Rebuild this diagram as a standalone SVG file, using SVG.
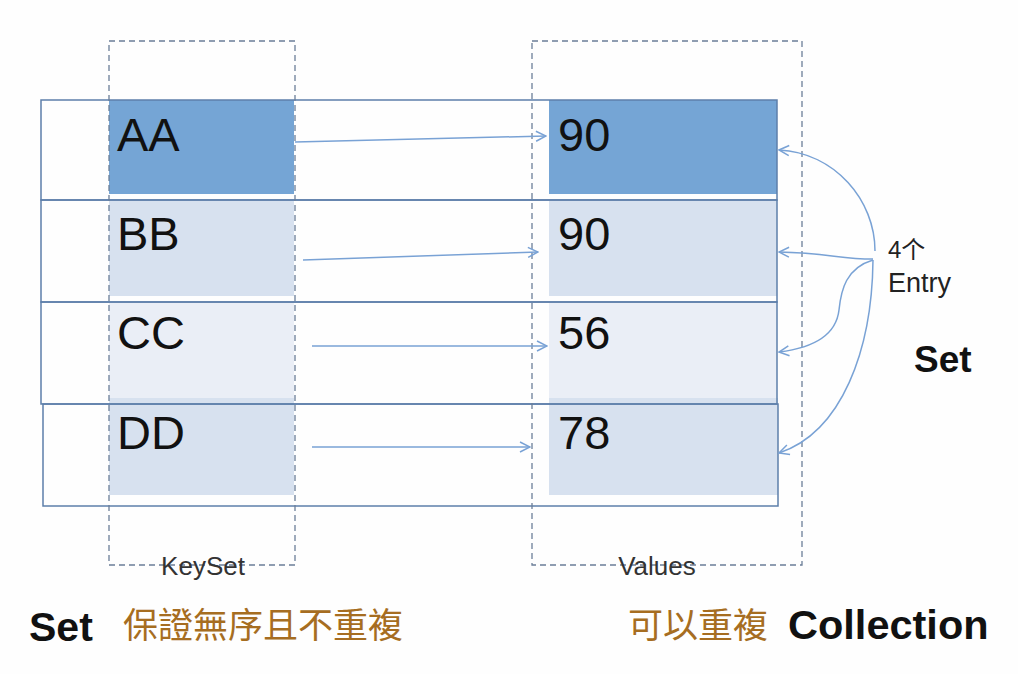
<svg xmlns="http://www.w3.org/2000/svg" width="1018" height="674" viewBox="0 0 1018 674">
<style>
.row{fill:none;stroke:#5d7faa;stroke-width:1.5}
.dash{fill:none;stroke:#6b7e98;stroke-width:1.3;stroke-dasharray:6 4}
.dark{fill:#75a5d5}
.mid{fill:#d7e1ef}
.light{fill:#eaeef6}
.big{font-family:"Liberation Sans",Arial,sans-serif;font-size:47px;fill:#111}
.lab{font-family:"Liberation Sans",Arial,sans-serif;font-size:26px;fill:#333}
.bold{font-family:"Liberation Sans",Arial,sans-serif;font-weight:bold;fill:#111}
.cjk{font-family:"Noto Sans CJK TC","Noto Sans CJK SC",sans-serif;font-size:35px;fill:#a66d21}
.conn{fill:none;stroke:#79a2d5;stroke-width:1.5;marker-end:url(#arr)}
</style>
<defs>
<marker id="arr" viewBox="0 0 12 12" refX="11" refY="6" markerWidth="12" markerHeight="12" markerUnits="userSpaceOnUse" orient="auto">
<path d="M1,1 L11,6 L1,11" fill="none" stroke="#79a2d5" stroke-width="1.5"/>
</marker>
</defs>
<rect x="0" y="0" width="1018" height="674" fill="#fefefe"/>
<g id="cells">
<rect class="dark" x="109" y="100" width="185" height="94"/>
<rect class="mid" x="109" y="201" width="185" height="95"/>
<rect class="light" x="109" y="303" width="185" height="95"/>
<rect class="mid" x="109" y="398" width="185" height="97"/>
<rect class="dark" x="549" y="100" width="228" height="94"/>
<rect class="mid" x="549" y="201" width="228" height="95"/>
<rect class="light" x="549" y="303" width="228" height="95"/>
<rect class="mid" x="549" y="398" width="229" height="97"/>
</g>
<g id="rows">
<rect class="row" x="41" y="100" width="736" height="100"/>
<rect class="row" x="41" y="200" width="736" height="102"/>
<rect class="row" x="41" y="302" width="736" height="102"/>
<rect class="row" x="43" y="404" width="735" height="102"/>
</g>
<g id="keyset">
<rect class="dash" x="109" y="41" width="186" height="524"/>
<text class="lab" x="203" y="575" text-anchor="middle">KeySet</text>
</g>
<g id="values">
<rect class="dash" x="532" y="41" width="270" height="524"/>
<text class="lab" x="657" y="575" text-anchor="middle">Values</text>
</g>
<g id="key-AA"><text class="big" x="117" y="151">AA</text></g>
<g id="key-BB"><text class="big" x="117" y="250">BB</text></g>
<g id="key-CC"><text class="big" x="117" y="349">CC</text></g>
<g id="key-DD"><text class="big" x="117" y="449">DD</text></g>
<g id="val-1"><text class="big" x="558" y="151">90</text></g>
<g id="val-2"><text class="big" x="558" y="250">90</text></g>
<g id="val-3"><text class="big" x="558" y="349">56</text></g>
<g id="val-4"><text class="big" x="558" y="449">78</text></g>
<g id="connectors">
<path class="conn" d="M295,142 L546,136"/>
<path class="conn" d="M303,260 L538,252"/>
<path class="conn" d="M312,346 L547,346"/>
<path class="conn" d="M312,447 L530,447"/>
<path class="conn" d="M875,251 C875,200 835,153 779,150"/>
<path class="conn" d="M873,259 C840,259 828,253 779,252"/>
<path class="conn" d="M873,260 C846,268 841,290 839,310 C836,336 812,348 779,352"/>
<path class="conn" d="M873,260 C872,350 842,432 779,453"/>
</g>
<g id="entry">
<text x="888" y="258" style="font-family:'Liberation Sans','Noto Sans CJK SC',sans-serif;font-size:24px;fill:#222">4个</text>
<text x="888" y="292" style="font-family:'Liberation Sans',Arial,sans-serif;font-size:27px;fill:#222">Entry</text>
</g>
<g id="set-right"><text class="bold" x="914" y="372" font-size="37">Set</text></g>
<g id="bottom-left">
<text class="bold" x="29" y="641" font-size="41">Set</text>
<text class="cjk" x="123" y="638">保證無序且不重複</text>
</g>
<g id="bottom-right">
<text class="cjk" x="628" y="638">可以重複</text>
<text class="bold" x="788" y="639" font-size="41.5">Collection</text>
</g>
</svg>
